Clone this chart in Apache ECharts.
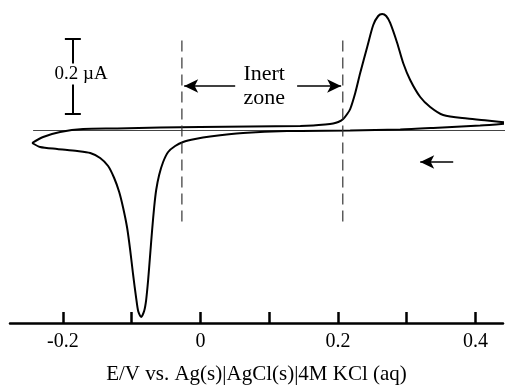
<!DOCTYPE html>
<html>
<head>
<meta charset="utf-8">
<script src="https://cdn.jsdelivr.net/npm/echarts@6/dist/echarts.min.js"></script>
<style>
    html, body { margin: 0; padding: 0; background: #fff; }
    #cv { width: 513px; height: 386px; }
</style>
</head>
<body>
<div id="cv"></div>
<script>
// E / V, i / uA
var forwardScan = [
    [-0.2448, -0.0333], [-0.2288, -0.0173], [-0.2041, -0.0040], [-0.1706, 0.0040],
    [-0.1211, 0.0053], [-0.0586, 0.0080], [-0.0004, 0.0093], [0.0723, 0.0107],
    [0.1452, 0.0120], [0.1639, 0.0133], [0.1814, 0.0160], [0.1930, 0.0187],
    [0.2004, 0.0227], [0.2076, 0.0307], [0.2134, 0.0440], [0.2178, 0.0573],
    [0.2251, 0.1000], [0.2323, 0.1533], [0.2425, 0.2227], [0.2513, 0.2813],
    [0.2585, 0.3053], [0.2643, 0.3107], [0.2701, 0.3053], [0.2759, 0.2867],
    [0.2861, 0.2333], [0.2948, 0.1800], [0.3050, 0.1347], [0.3196, 0.0893],
    [0.3341, 0.0627], [0.3530, 0.0413], [0.3879, 0.0320], [0.4170, 0.0267],
    [0.4534, 0.0200]
];
var reverseScan = [
    [0.4534, 0.0200], [0.4068, 0.0133], [0.3385, 0.0067], [0.2905, 0.0027],
    [0.2177, 0.0000], [0.1261, -0.0013], [0.0621, -0.0067], [0.0141, -0.0160],
    [-0.0077, -0.0227], [-0.0252, -0.0307], [-0.0368, -0.0413], [-0.0470, -0.0573],
    [-0.0543, -0.0840], [-0.0601, -0.1187], [-0.0644, -0.1587], [-0.0673, -0.2040],
    [-0.0703, -0.2653], [-0.0732, -0.3320], [-0.0761, -0.3987], [-0.0790, -0.4520],
    [-0.0819, -0.4813], [-0.0863, -0.4973], [-0.0906, -0.4813], [-0.0935, -0.4467],
    [-0.0979, -0.3853], [-0.1022, -0.3187], [-0.1066, -0.2600], [-0.1124, -0.2067],
    [-0.1182, -0.1640], [-0.1255, -0.1267], [-0.1343, -0.0947], [-0.1459, -0.0733],
    [-0.1603, -0.0600], [-0.1793, -0.0547], [-0.2084, -0.0493], [-0.2332, -0.0440],
    [-0.2448, -0.0333]
];
var zeroLine = [[-0.2434, 0], [0.455, 0]];
var inertBounds = [-0.027, 0.207];
var inertSpan = [0.24, -0.2587];
var xTicks = [-0.2, -0.1, 0, 0.1, 0.2, 0.3, 0.4];
var xLabels = [-0.2, 0, 0.2, 0.4];
var scaleBarV = -0.1856;
var scaleBarI = [0.045, 0.245];

(function () {
    var serif = '"Liberation Serif", "DejaVu Serif", serif';
    var chart = echarts.init(document.getElementById('cv'));

    var curve = function (data) {
        return {
            type: 'line',
            data: data,
            smooth: 0.25,
            symbol: 'none',
            clip: false,
            silent: true,
            lineStyle: { color: '#000', width: 2 }
        };
    };

    var dashed = function (v) {
        return {
            type: 'line',
            data: [[v, inertSpan[0]], [v, inertSpan[1]]],
            symbol: 'none',
            silent: true,
            lineStyle: { color: '#333', width: 1.2, type: [11, 6] }
        };
    };

    var arrow = function (from, to) {
        return {
            type: 'line',
            data: [],
            markLine: {
                silent: true,
                animation: false,
                symbol: ['none', 'arrow'],
                symbolSize: [10, 14],
                label: { show: false },
                lineStyle: { color: '#000', width: 1.5, type: 'solid' },
                data: [[{ coord: from }, { coord: to }]]
            }
        };
    };

    var textMark = function (coord, text, size, extra) {
        var label = {
            show: true,
            formatter: text,
            color: '#000',
            fontFamily: serif,
            fontSize: size
        };
        for (var k in extra) { label[k] = extra[k]; }
        return {
            type: 'line',
            data: [],
            markPoint: {
                silent: true,
                animation: false,
                symbol: 'circle',
                symbolSize: 1,
                itemStyle: { color: 'rgba(0,0,0,0)' },
                label: label,
                data: [{ coord: coord }]
            }
        };
    };

    var serifHalf = 0.0116;
    var scaleBar = {
        type: 'line',
        data: [],
        markLine: {
            silent: true,
            animation: false,
            symbol: 'none',
            label: { show: false },
            lineStyle: { color: '#000', width: 2, type: 'solid' },
            data: [
                [{ coord: [scaleBarV, scaleBarI[0]] }, { coord: [scaleBarV, scaleBarI[1]] }],
                [{ coord: [scaleBarV - serifHalf, scaleBarI[0]] }, { coord: [scaleBarV + serifHalf, scaleBarI[0]] }],
                [{ coord: [scaleBarV - serifHalf, scaleBarI[1]] }, { coord: [scaleBarV + serifHalf, scaleBarI[1]] }]
            ]
        }
    };

    var option = {
        animation: false,
        grid: { left: 10, right: 10, top: 10, bottom: 63, outerBoundsMode: 'none' },
        xAxis: {
            type: 'value',
            min: -0.277,
            max: 0.44,
            name: 'E/V vs. Ag(s)|AgCl(s)|4M KCl (aq)',
            nameLocation: 'middle',
            nameGap: 41,
            nameTextStyle: { color: '#000', fontFamily: serif, fontSize: 21 },
            splitLine: { show: false },
            axisLine: { show: true, onZero: false, lineStyle: { color: '#000', width: 2.5 } },
            axisTick: {
                show: true, inside: true, length: 11, customValues: xTicks,
                lineStyle: { color: '#000', width: 2.5 }
            },
            axisLabel: {
                color: '#000', fontFamily: serif, fontSize: 20, margin: 9,
                customValues: xLabels
            }
        },
        yAxis: {
            type: 'value',
            show: false,
            min: -0.5133,
            max: 0.3213,
            splitLine: { show: false }
        },
        series: [
            {
                type: 'line',
                data: zeroLine,
                symbol: 'none',
                clip: false,
                silent: true,
                lineStyle: { color: '#444', width: 1.2 }
            },
            curve(forwardScan),
            curve(reverseScan),
            dashed(inertBounds[0]),
            dashed(inertBounds[1]),
            scaleBar,
            textMark([-0.1735, 0.1507], '0.2 µA', 19, { backgroundColor: '#fff', padding: [1, 1] }),
            textMark([0.0927, 0.1187], 'Inert\nzone', 22, { lineHeight: 24, align: 'center' }),
            arrow([0.0505, 0.1187], [-0.0237, 0.1187]),
            arrow([0.1406, 0.1187], [0.2046, 0.1187]),
            arrow([0.3676, -0.084], [0.3196, -0.084])
        ]
    };
    chart.setOption(option);

    window.addEventListener('resize', function () {
        chart.resize();
    });
})();
</script>
</body>
</html>
